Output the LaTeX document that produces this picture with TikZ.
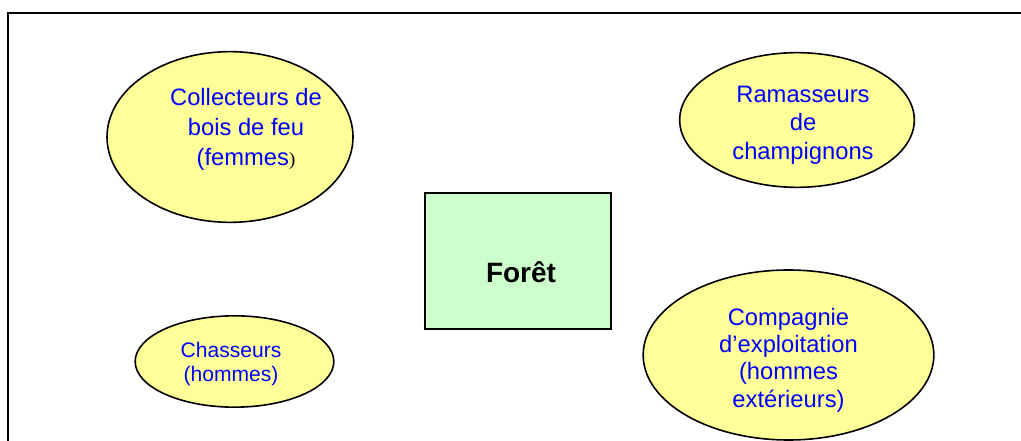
\documentclass[tikz,border=0pt]{standalone}
\usepackage{fontspec}
\setmainfont{Liberation Sans}
\newfontfamily\serifpart{Liberation Serif}
\usetikzlibrary{shapes.geometric}
\definecolor{blobfill}{HTML}{FFFF99}
\definecolor{forestfill}{HTML}{CCFFCC}
\definecolor{labelblue}{HTML}{0000FF}
\tikzset{
  blob/.style={ellipse, draw=black, line width=1.2pt, fill=blobfill, inner sep=0pt},
  bluetext/.style={text=labelblue, align=center, inner sep=0pt, font=\fontsize{17.8}{21.5}\selectfont},
  smalltext/.style={text=labelblue, align=center, inner sep=0pt, font=\fontsize{15.8}{18.5}\selectfont},
  forestbox/.style={rectangle, draw=black, line width=1pt, fill=forestfill, inner sep=0pt},
  frameline/.style={line width=1.5pt, draw=black}
}
\begin{document}
\begin{tikzpicture}[x=0.75pt, y=-0.75pt]
  \useasboundingbox (0,0) rectangle (1021,441);
  \fill[white] (0,0) rectangle (1021,441);

  % open frame: top and left edges
  \coordinate (frameTR) at (1021,13);
  \coordinate (frameTL) at (8,13);
  \coordinate (frameBL) at (8,441);
  \draw[frameline] (frameTR) -- (frameTL) -- (frameBL);

  % forest in the middle
  \node[forestbox, minimum width=139.5pt, minimum height=102pt] (foret) at (518,261) {};
  \node[inner sep=0pt, font=\fontsize{21}{24}\selectfont\bfseries] (foret-t) at (521,272) {Forêt};

  % users of the forest
  \node[blob, minimum width=184.5pt, minimum height=128pt] (collecteurs) at (230,137) {};
  \node[bluetext, font=\fontsize{17.8}{22.5}\selectfont] (collecteurs-t) at (246,129) {Collecteurs de\\bois de feu\\(femmes{\serifpart\color{black}\fontsize{14}{14}\selectfont)}};

  \node[blob, minimum width=149pt, minimum height=68.5pt] (chasseurs) at (234.5,361.5) {};
  \node[smalltext] (chasseurs-t) at (231,364) {Chasseurs\\(hommes)};

  \node[blob, minimum width=176pt, minimum height=101pt] (ramasseurs) at (797,120) {};
  \node[bluetext] (ramasseurs-t) at (803,125) {Ramasseurs\\de\\champignons};

  \node[blob, minimum width=218pt, minimum height=127.5pt] (compagnie) at (788.5,355) {};
  \node[bluetext, font=\fontsize{17.8}{20.5}\selectfont] (compagnie-t) at (788.5,360) {Compagnie\\d’exploitation\\(hommes\\extérieurs)};
\end{tikzpicture}
\end{document}
